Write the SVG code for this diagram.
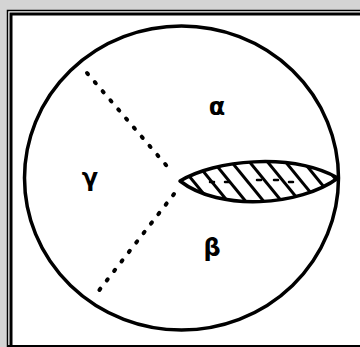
<svg xmlns="http://www.w3.org/2000/svg" width="360" height="347" viewBox="0 0 360 347">
  <style>
    .outline { fill: none; stroke: #000; stroke-width: 3.5; }
    .dots { fill: none; stroke: #000; stroke-width: 4; stroke-linecap: round; stroke-dasharray: 1.5 10.5; }
    .hatch { stroke: #000; stroke-width: 3; }
    .label { font-family: "DejaVu Sans", "Liberation Sans", sans-serif; font-size: 24px; font-weight: bold; text-anchor: middle; fill: #000; }
  </style>
  <defs>
    <clipPath id="lensClip">
      <path d="M180,181 C215,160 290,152 338,178 C300,206 220,212 180,181 Z"/>
    </clipPath>
  </defs>
  <!-- background and frame -->
  <rect x="0" y="0" width="360" height="347" fill="#d4d4d4"/>
  <rect x="7" y="10" width="360" height="337" fill="#fff"/>
  <path d="M7.5,347 V10.5 H360" fill="none" stroke="#000" stroke-width="1.5"/>
  <path d="M11,347 V14 H360" fill="none" stroke="#000" stroke-width="3"/>
  <line x1="7" y1="346" x2="360" y2="346" stroke="#000" stroke-width="2"/>

  <g id="circle">
    <ellipse class="outline" cx="181.5" cy="178" rx="157" ry="152"/>
  </g>

  <g id="connectors">
    <line class="dots" x1="87" y1="73" x2="172" y2="172"/>
    <line class="dots" x1="174" y1="194" x2="97" y2="293"/>
  </g>

  <g id="lens">
    <g clip-path="url(#lensClip)">
      <line class="hatch" x1="176" y1="160" x2="216" y2="209"/>
      <line class="hatch" x1="194" y1="160" x2="234" y2="209"/>
      <line class="hatch" x1="212" y1="160" x2="252" y2="209"/>
      <line class="hatch" x1="230" y1="160" x2="270" y2="209"/>
      <line class="hatch" x1="248" y1="160" x2="288" y2="209"/>
      <line class="hatch" x1="266" y1="160" x2="306" y2="209"/>
      <line class="hatch" x1="284" y1="160" x2="324" y2="209"/>
      <line class="hatch" x1="302" y1="160" x2="342" y2="209"/>
      <line class="hatch" x1="320" y1="160" x2="360" y2="209"/>
      <g stroke="#000" stroke-width="2.5" stroke-linecap="round">
        <line x1="210" y1="182" x2="214" y2="182"/>
        <line x1="225" y1="182" x2="229" y2="182"/>
        <line x1="257" y1="180" x2="261" y2="180"/>
        <line x1="274" y1="180" x2="278" y2="180"/>
        <line x1="289" y1="182" x2="293" y2="182"/>
      </g>
    </g>
    <path class="outline" d="M180,181 C215,160 290,152 338,178 C300,206 220,212 180,181 Z" stroke-linejoin="round"/>
  </g>

  <g id="alpha"><text class="label" x="217" y="115">α</text></g>
  <g id="gamma"><text class="label" x="90" y="186">γ</text></g>
  <g id="beta"><text class="label" x="212" y="256">β</text></g>
</svg>
